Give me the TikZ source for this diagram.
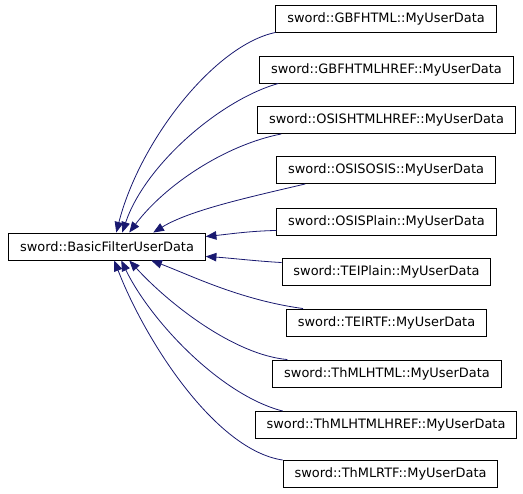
\documentclass[tikz,border=0pt]{standalone}
\usepackage{fontspec}
\setmainfont{DejaVu Sans}
\usepackage{xcolor}
\usetikzlibrary{arrows.meta,calc}
\definecolor{edge}{HTML}{191970}

\tikzset{
  cls/.style={draw=black,line width=0.7pt,fill=white,minimum height=20.25pt,
    inner xsep=8.5pt,inner ysep=0pt,font=\fontsize{9.7}{11}\selectfont},
  inh/.style={draw=edge,line width=0.6pt,-{Triangle[length=8pt,width=6.4pt]}}
}

\begin{document}
\begin{tikzpicture}[x=0.75pt,y=-0.75pt]
  \useasboundingbox (0,0) rectangle (523,493);

  \node[cls] (base) at (107,246.5) {sword::BasicFilterUserData};

  \node[cls] (gbfhtml)      at (386,18.5)  {sword::GBFHTML::MyUserData};
  \node[cls] (gbfhtmlhref)  at (386.5,69.5) {sword::GBFHTMLHREF::MyUserData};
  \node[cls] (osishtmlhref) at (386.5,120) {sword::OSISHTMLHREF::MyUserData};
  \node[cls] (osisosis)     at (386,170)   {sword::OSISOSIS::MyUserData};
  \node[cls] (osisplain)    at (386.5,221.5) {sword::OSISPlain::MyUserData};
  \node[cls] (teiplain)     at (386.5,271.5) {sword::TEIPlain::MyUserData};
  \node[cls] (teirtf)       at (386.5,322.5) {sword::TEIRTF::MyUserData};
  \node[cls] (thmlhtml)     at (387,373.5) {sword::ThMLHTML::MyUserData};
  \node[cls] (thmlhtmlhref) at (386,425)   {sword::ThMLHTMLHREF::MyUserData};
  \node[cls] (thmlrtf)      at (390.5,474) {sword::ThMLRTF::MyUserData};

  % upper derived classes
  \draw[inh] (gbfhtml.south west) .. controls (215,45) and (140,140)
    .. ($(base.north west)+(108,0)$);
  \draw[inh] ($(gbfhtmlhref.south west)+(19,0)$) .. controls (220,100) and (145,165)
    .. ($(base.north west)+(114,0)$);
  \draw[inh] ($(osishtmlhref.south west)+(24,0)$) .. controls (225,145) and (165,185)
    .. ($(base.north west)+(121,0)$);
  \draw[inh] ($(osisosis.south west)+(29,0)$) .. controls (250,197) and (190,210)
    .. ($(base.north west)+(145,0)$);

  % side
  \draw[inh] ($(osisplain.south west)+(0,-5)$) .. controls (250,231) and (230,234)
    .. ($(base.north east)+(0,4)$);
  \draw[inh] ($(teiplain.north west)+(0,5)$) .. controls (255,261) and (230,258)
    .. ($(base.south east)+(0,-4)$);

  % lower derived classes
  \draw[inh] ($(teirtf.north west)+(17,0)$) .. controls (240,300) and (190,275)
    .. ($(base.south west)+(143,0)$);
  \draw[inh] ($(thmlhtml.north west)+(15,0)$) .. controls (235,355) and (170,305)
    .. ($(base.south west)+(121,0)$);
  \draw[inh] ($(thmlhtmlhref.north west)+(28,0)$) .. controls (220,395) and (150,320)
    .. ($(base.south west)+(113,0)$);
  \draw[inh] (thmlrtf.north west) .. controls (215,450) and (145,340)
    .. ($(base.south west)+(106,0)$);
\end{tikzpicture}
\end{document}
